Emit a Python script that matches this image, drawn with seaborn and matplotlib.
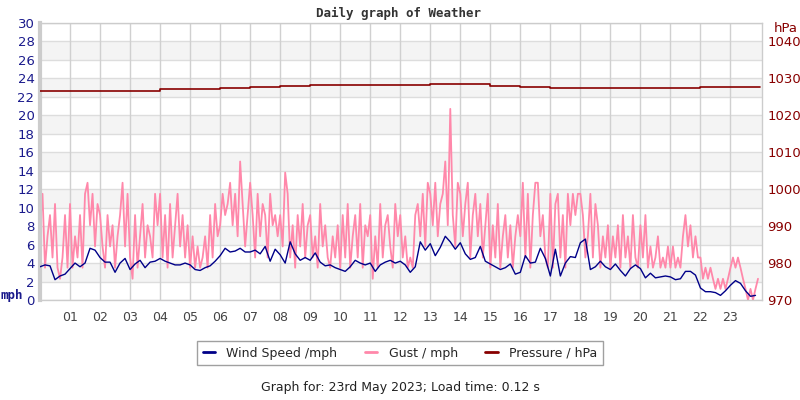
import matplotlib
matplotlib.use("Agg")
import matplotlib.pyplot as plt
import seaborn as sns
import pandas as pd
import numpy as np
from matplotlib.lines import Line2D

# wind speed, 10-minute means (mph)
wind_mph = [
    3.6, 3.8, 3.7, 2.2, 2.6, 2.8,
    3.4, 4.0, 3.6, 4.0, 5.6, 5.4,
    4.6, 4.1, 4.1, 3.0, 4.0, 4.5,
    3.3, 3.9, 4.3, 3.5, 4.1, 4.2,
    4.5, 4.2, 4.0, 3.8, 3.8, 4.0,
    3.8, 3.3, 3.2, 3.5, 3.7, 4.2,
    4.8, 5.6, 5.2, 5.3, 5.6, 5.2,
    5.2, 5.4, 5.0, 5.8, 4.2, 5.5,
    4.9, 4.0, 6.3, 5.0, 4.3, 4.6,
    4.3, 5.1, 4.1, 3.7, 3.8, 3.5,
    3.3, 3.1, 3.6, 4.3, 4.0, 3.8,
    4.0, 3.1, 3.8, 4.1, 4.3, 4.0,
    4.2, 3.8, 3.0, 3.6, 6.3, 5.4,
    6.1, 4.8, 5.7, 6.9, 6.3, 5.5,
    6.2, 5.0, 4.4, 4.6, 5.8, 4.2,
    3.9, 3.6, 3.3, 3.5, 3.9, 2.8,
    3.0, 4.8, 4.0, 4.1, 5.6, 4.5,
    2.6, 5.5, 2.6, 4.0, 4.7, 4.6,
    6.2, 6.6, 3.3, 3.6, 4.2, 3.6,
    3.3, 3.9, 3.2, 2.6, 3.4, 3.8,
    3.4, 2.4, 2.9, 2.4, 2.5, 2.6,
    2.5, 2.2, 2.3, 3.1, 3.1, 2.7,
    1.3, 0.9, 0.9, 0.8, 0.5, 1.0,
    1.6, 2.1, 1.8, 1.0, 0.4, 0.5,
]

# gust, 5-minute samples (mph)
gust_mph = [
    8.1, 11.5, 3.5, 6.9, 9.2, 4.6, 10.4, 3.5, 2.3, 4.6, 9.2, 3.5,
    10.4, 3.5, 6.9, 4.6, 9.2, 3.5, 11.5, 12.7, 8.1, 11.5, 5.8, 10.4,
    9.2, 5.8, 3.5, 9.2, 5.8, 8.1, 3.5, 6.9, 9.2, 12.7, 5.8, 11.5,
    4.6, 2.3, 9.2, 3.5, 6.9, 10.4, 4.6, 8.1, 6.9, 4.6, 11.5, 8.1,
    11.5, 4.6, 9.2, 3.5, 10.4, 4.6, 8.1, 11.5, 5.8, 9.2, 4.6, 8.1,
    3.5, 6.9, 3.5, 5.8, 3.5, 4.6, 6.9, 3.5, 9.2, 4.6, 10.4, 6.9,
    8.1, 11.5, 9.2, 10.4, 12.7, 8.1, 11.5, 6.9, 15.0, 10.4, 5.8, 9.2,
    12.7, 9.2, 4.6, 11.5, 6.9, 10.4, 9.2, 4.6, 11.5, 8.1, 9.2, 6.9,
    9.2, 5.8, 13.8, 11.5, 4.6, 8.1, 3.5, 9.2, 5.8, 10.4, 4.6, 8.1,
    9.2, 4.6, 6.9, 3.5, 10.4, 5.8, 8.1, 4.6, 3.5, 6.9, 4.6, 8.1,
    3.5, 9.2, 4.6, 10.4, 3.5, 6.9, 9.2, 4.6, 10.4, 3.5, 8.1, 6.9,
    9.2, 2.3, 6.9, 3.5, 10.4, 4.6, 8.1, 9.2, 5.8, 3.5, 10.4, 6.9,
    9.2, 4.6, 6.9, 3.5, 4.6, 3.5, 9.2, 10.4, 6.9, 11.5, 5.8, 12.7,
    11.5, 8.1, 12.7, 6.9, 10.4, 11.5, 15.0, 8.1, 20.7, 9.2, 5.8, 12.7,
    11.5, 6.9, 10.4, 12.7, 4.6, 9.2, 11.5, 6.9, 10.4, 4.6, 8.1, 11.5,
    3.5, 8.1, 4.6, 10.4, 3.5, 6.9, 9.2, 4.6, 8.1, 3.5, 6.9, 9.2,
    6.9, 12.7, 4.6, 11.5, 3.5, 9.2, 12.7, 12.7, 6.9, 9.2, 4.6, 3.5,
    11.5, 3.5, 10.4, 11.5, 4.6, 9.2, 3.5, 11.5, 8.1, 11.5, 9.2, 11.5,
    11.5, 9.2, 4.6, 6.9, 11.5, 4.6, 10.4, 8.1, 3.5, 6.9, 4.6, 8.1,
    3.5, 6.9, 4.6, 8.1, 3.5, 9.2, 4.6, 6.9, 3.5, 9.2, 4.6, 3.5,
    8.1, 4.6, 9.2, 3.5, 5.8, 3.5, 4.6, 6.9, 3.5, 4.6, 3.5, 5.8,
    3.5, 5.8, 3.5, 4.6, 3.5, 6.9, 9.2, 5.8, 8.1, 4.6, 6.9, 4.6,
    4.6, 2.3, 3.5, 2.3, 3.5, 2.3, 1.2, 2.3, 1.2, 2.3, 1.2, 2.3,
    3.5, 4.6, 3.5, 4.6, 3.5, 2.3, 1.2, 0.0, 1.2, 0.0, 1.2, 2.3,
]

# pressure, hourly (hPa)
pressure_hpa = [
    1026.6, 1026.6, 1026.5, 1026.6, 1027.0, 1027.0, 1027.3, 1027.6,
    1027.9, 1028.1, 1028.1, 1028.2, 1028.3, 1028.4, 1028.4, 1028.0,
    1027.6, 1027.4, 1027.3, 1027.3, 1027.3, 1027.4, 1027.7, 1027.8,
    1027.6,
]

hour_labels = ['01', '02', '03', '04', '05', '06', '07', '08', '09', '10', '11', '12',
               '13', '14', '15', '16', '17', '18', '19', '20', '21', '22', '23']
mph_ticks = [0, 2, 4, 6, 8, 10, 12, 14, 16, 18, 20, 22, 24, 26, 28, 30]
hpa_ticks = [970, 980, 990, 1000, 1010, 1020, 1030, 1040]

WIND_C = '#000088'
GUST_C = '#ff88aa'
PRES_C = '#880000'

wind_df = pd.DataFrame({'hour': np.arange(len(wind_mph)) / 6, 'mph': wind_mph})
gust_df = pd.DataFrame({'hour': np.arange(len(gust_mph)) / 12, 'mph': gust_mph})
pres_df = pd.DataFrame({'hour': np.arange(len(pressure_hpa)), 'hpa': pressure_hpa})

sns.set_style('white')
plt.rcParams['font.family'] = ['DejaVu Sans']

fig = plt.figure(figsize=(8, 4), dpi=100)
ax = fig.add_axes([0.05, 0.25, 0.9025, 0.6925])

# banded background
for lo in range(2, 30, 4):
    ax.axhspan(lo, lo + 2, color='#f4f4f4', zorder=0, lw=0)
for y in mph_ticks:
    ax.axhline(y, color='#dddddd', lw=1, zorder=0.5)
for h in range(1, 24):
    ax.axvline(h, color='#d0d0d0', lw=1, zorder=0.5)

sns.lineplot(data=gust_df, x='hour', y='mph', ax=ax, color=GUST_C, lw=1.3,
             estimator=None, zorder=2)
sns.lineplot(data=wind_df, x='hour', y='mph', ax=ax, color=WIND_C, lw=1.0,
             estimator=None, zorder=3)

ax.set_xlim(0, 24.05)
ax.set_ylim(0, 30)
ax.set_yticks(mph_ticks)
ax.set_xticks(range(1, 24))
ax.set_xticklabels(hour_labels)
ax.tick_params(axis='y', length=0, labelsize=9.5, labelcolor='#1a1a8c', pad=4)
ax.tick_params(axis='x', length=0, labelsize=9, labelcolor='#444444', pad=8)
ax.set_xlabel('')
ax.set_ylabel('')
for side in ['top', 'right', 'bottom']:
    ax.spines[side].set_color('#cccccc')
    ax.spines[side].set_linewidth(1)
ax.spines['left'].set_color('#cccccc')
ax.spines['left'].set_linewidth(3)

ax2 = ax.twinx()
sns.lineplot(data=pres_df, x='hour', y='hpa', ax=ax2, color=PRES_C, lw=1.2,
             estimator=None, drawstyle='steps-post')
ax2.set_ylim(970, 1045)
ax2.set_yticks(hpa_ticks)
ax2.set_ylabel('')
ax2.tick_params(axis='y', length=0, labelsize=9.5, labelcolor=PRES_C, pad=4)
for s in ax2.spines.values():
    s.set_visible(False)

fig.text(0.4975, 0.9675, 'Daily graph of Weather', ha='center', va='center',
         family='DejaVu Sans Mono', weight='bold', fontsize=9, color='#333333')
fig.text(0.9825, 0.93, 'hPa', ha='center', va='center', fontsize=9.5, color=PRES_C)
fig.text(0.015, 0.2625, 'mph', ha='center', va='center', fontsize=9,
         weight='bold', color='#1a1a8c', family='DejaVu Sans Mono')

handles = [Line2D([], [], color=WIND_C, lw=2),
           Line2D([], [], color=GUST_C, lw=2),
           Line2D([], [], color=PRES_C, lw=2)]
leg = fig.legend(handles, ['Wind Speed /mph', 'Gust / mph', 'Pressure / hPa'],
                 loc='center', bbox_to_anchor=(0.5, 0.1175), ncol=3, fontsize=9,
                 frameon=True, fancybox=False, handlelength=1.0, columnspacing=2.2,
                 handletextpad=0.9, borderpad=0.45)
leg.get_frame().set_edgecolor('#888888')
leg.get_frame().set_linewidth(1)

fig.text(0.5, 0.03, 'Graph for: 23rd May 2023; Load time: 0.12 s', ha='center',
         va='center', fontsize=9, color='#222222')

fig.savefig('out.png', dpi=100)
